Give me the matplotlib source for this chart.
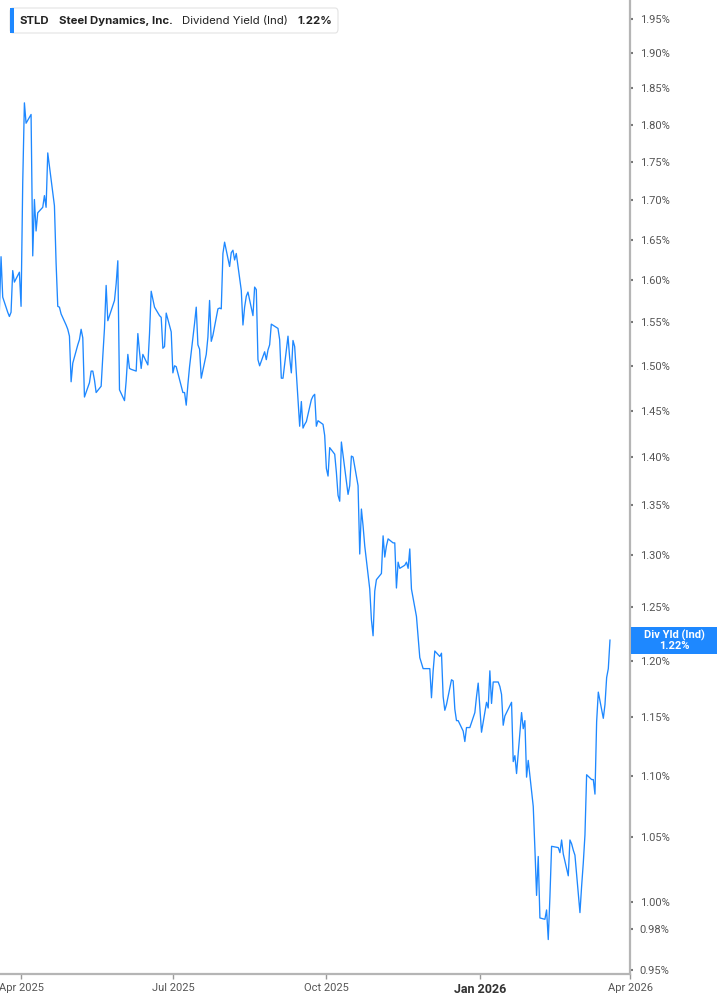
import numpy as np
import pandas as pd
import matplotlib
matplotlib.use("Agg")
import matplotlib.pyplot as plt
import matplotlib.dates as mdates
from matplotlib.patches import Rectangle, FancyBboxPatch
from matplotlib.ticker import FixedLocator, NullLocator

# trading days, NYSE holidays skipped
start_date = "2025-03-19"
holidays = ["2025-04-18", "2025-05-26", "2025-06-19", "2025-07-04", "2025-09-01",
            "2025-11-27", "2025-12-25", "2026-01-01", "2026-01-19", "2026-02-16"]

# dividend yield (%)
yld_spring = [1.564, 1.629, 1.580, 1.562, 1.557, 1.562, 1.612, 1.598, 1.610, 1.569,
              1.723, 1.830, 1.802, 1.814, 1.630, 1.701, 1.661, 1.684, 1.691, 1.706,
              1.691, 1.762, 1.693, 1.621, 1.569, 1.568, 1.560, 1.547, 1.542, 1.534,
              1.482, 1.503, 1.524, 1.530, 1.542, 1.532, 1.465, 1.481, 1.494, 1.494,
              1.484, 1.470, 1.477, 1.511, 1.543, 1.594, 1.552, 1.576, 1.596, 1.624,
              1.473, 1.461, 1.483, 1.513, 1.497, 1.496, 1.494, 1.537, 1.516, 1.497,
              1.513, 1.501, 1.537, 1.587, 1.568, 1.558, 1.556, 1.520, 1.522, 1.561,
              1.539]
yld_summer = [1.492, 1.500, 1.499, 1.470, 1.470, 1.456, 1.479, 1.499, 1.549,
              1.568, 1.524, 1.519, 1.486, 1.513, 1.533, 1.576, 1.528, 1.535, 1.566,
              1.567, 1.566, 1.633, 1.647, 1.617, 1.634, 1.637, 1.625, 1.633,
              1.588, 1.547, 1.568, 1.581, 1.586, 1.558, 1.592, 1.589, 1.507, 1.500,
              1.516, 1.507, 1.518, 1.524, 1.548, 1.543, 1.530, 1.486, 1.486, 1.534,
              1.509, 1.492, 1.529, 1.522, 1.433, 1.460, 1.431, 1.435, 1.438, 1.462,
              1.466, 1.468, 1.433, 1.439, 1.435]
yld_autumn = [1.423, 1.388, 1.380, 1.410, 1.403, 1.384, 1.360, 1.354, 1.416, 1.375,
              1.361, 1.370, 1.401, 1.400, 1.370, 1.301, 1.346, 1.329, 1.309, 1.267,
              1.238, 1.223, 1.265, 1.276, 1.282, 1.319, 1.298, 1.309, 1.316, 1.312,
              1.312, 1.268, 1.293, 1.287, 1.290, 1.293, 1.287, 1.306, 1.267, 1.241,
              1.222, 1.203, 1.193, 1.193, 1.193, 1.167, 1.191, 1.209, 1.204, 1.207,
              1.168, 1.156, 1.161, 1.183, 1.182, 1.157, 1.147, 1.147, 1.138, 1.129,
              1.141, 1.141, 1.154, 1.168]
yld_winter = [1.180, 1.137, 1.163, 1.158, 1.191, 1.162, 1.181, 1.181, 1.177, 1.170,
              1.143, 1.151, 1.163, 1.112, 1.117, 1.102, 1.154, 1.140, 1.147, 1.099,
              1.113, 1.075, 1.041, 1.005, 1.035, 0.988, 0.987, 0.994, 0.972, 1.004,
              1.043, 1.042, 1.038, 1.048, 1.037, 1.020, 1.048, 1.045, 1.040, 1.036,
              0.992, 1.012, 1.030, 1.052, 1.101, 1.097, 1.097, 1.085, 1.146, 1.172,
              1.149, 1.161, 1.185, 1.193, 1.219]

ytick_vals = [0.95, 0.98, 1.00, 1.05, 1.10, 1.15, 1.20, 1.25, 1.30, 1.35, 1.40,
              1.45, 1.50, 1.55, 1.60, 1.65, 1.70, 1.75, 1.80, 1.85, 1.90, 1.95]
xtick_dates = ["2025-04-01", "2025-07-01", "2025-10-01", "2026-01-01", "2026-04-01"]
xtick_labels = ["Apr 2025", "Jul 2025", "Oct 2025", "Jan 2026", "Apr 2026"]

ticker = "STLD"
company = "Steel Dynamics, Inc."
metric = "Dividend Yield (Ind)"
badge_name = "Div Yld (Ind)"

values = np.array(yld_spring + yld_summer + yld_autumn + yld_winter)
dates = pd.bdate_range(start_date, periods=len(values), freq="C", holidays=holidays)
last = values[-1]

blue = "#1e88ff"
W, H = 717, 1005
fig = plt.figure(figsize=(W / 100, H / 100), dpi=100)
ax = fig.add_axes([0, 1 - 974 / H, 630 / W, 974 / H])

ax.plot(dates, values, color=blue, lw=0.95, solid_joinstyle="round")

ax.set_yscale("log")
ax.set_ylim(0.947, 1.978)
ax.set_xlim(pd.Timestamp("2025-03-19 09:00"), pd.Timestamp("2026-04-01"))

for s in ["left", "top"]:
    ax.spines[s].set_visible(False)
for s in ["right", "bottom"]:
    ax.spines[s].set_color("#b5b5b5")
    ax.spines[s].set_linewidth(1.6)

ax.yaxis.tick_right()
ax.yaxis.set_major_locator(FixedLocator(ytick_vals))
ax.yaxis.set_minor_locator(NullLocator())
ax.set_yticklabels([f"{v:.2f}%" for v in ytick_vals])
ax.tick_params(axis="y", length=2.5, width=1.5, color="#777777", pad=4.5,
               labelsize=8, labelcolor="#555555")
for t in ax.get_yticklabels():
    t.set_fontfamily(["Roboto", "DejaVu Sans"])

ax.xaxis.set_major_locator(FixedLocator(mdates.date2num(pd.to_datetime(xtick_dates))))
ax.xaxis.set_minor_locator(NullLocator())
ax.set_xticklabels(xtick_labels)
ax.tick_params(axis="x", length=3.5, width=1, color="#999999", pad=3,
               labelsize=8, labelcolor="#555555")
for t in ax.get_xticklabels():
    t.set_fontfamily(["Liberation Sans Narrow", "Roboto", "DejaVu Sans"])
    if t.get_text() == "Jan 2026":
        t.set_fontweight("bold")
        t.set_fontsize(9)
        t.set_color("#333333")

# value badge on the right axis
fig.canvas.draw()
y_pix = ax.transData.transform((mdates.date2num(dates[-1]), last))[1]
fig.add_artist(Rectangle((631 / W, (y_pix - 13.5) / H), 86 / W, 27 / H,
                         transform=fig.transFigure, facecolor=blue, edgecolor="none"))
fig.text(674 / W, y_pix / H, f"{badge_name}\n{last:.2f}%", ha="center", va="center",
         color="white", fontsize=8, fontweight="bold", linespacing=1.0,
         family=["Roboto", "DejaVu Sans"])

# legend box top-left
fig.add_artist(FancyBboxPatch((10 / W, 1 - 33 / H), 328 / W, 25 / H,
                              boxstyle="round,pad=0,rounding_size=0.004",
                              transform=fig.transFigure, facecolor="white",
                              edgecolor="#e3e3e3", lw=0.8))
fig.add_artist(Rectangle((10 / W, 1 - 33 / H), 3.5 / W, 25 / H,
                         transform=fig.transFigure, facecolor=blue, edgecolor="none"))
ly = 1 - 21 / H
lfont = ["Inter", "Roboto", "DejaVu Sans"]
fig.text(20 / W, ly, ticker, fontsize=8.2, fontweight="bold", color="#222222",
         va="center", family=lfont)
fig.text(59 / W, ly, company, fontsize=8.2, fontweight="bold", color="#222222",
         va="center", family=lfont)
fig.text(182 / W, ly, metric, fontsize=8.2, color="#222222", va="center", family=lfont)
fig.text(297 / W, ly, f"{last:.2f}%", fontsize=8.2, fontweight="bold", color="#222222",
         va="center", family=lfont)

fig.savefig("out.png", dpi=100)
